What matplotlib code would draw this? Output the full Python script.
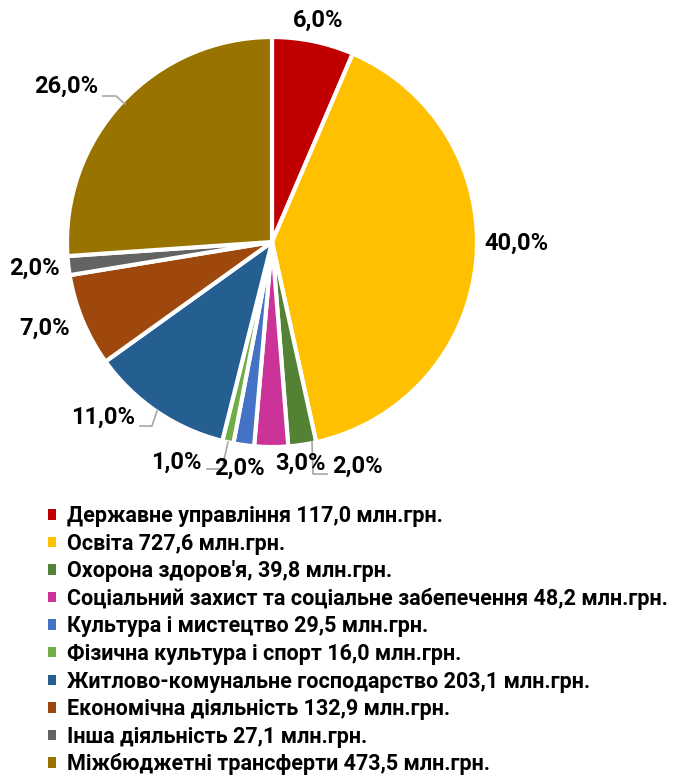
import numpy as np
import matplotlib.pyplot as plt

plt.rcParams['font.family'] = ['Roboto', 'DejaVu Sans']

# data
categories = ["Державне управління 117,0 млн.грн.",
              "Освіта 727,6 млн.грн.",
              "Охорона здоров'я, 39,8 млн.грн.",
              "Соціальний захист та соціальне забепечення 48,2 млн.грн.",
              "Культура і мистецтво 29,5 млн.грн.",
              "Фізична культура і спорт 16,0 млн.грн.",
              "Житлово-комунальне господарство 203,1 млн.грн.",
              "Економічна діяльність 132,9 млн.грн.",
              "Інша діяльність 27,1 млн.грн.",
              "Міжбюджетні трансферти 473,5 млн.грн."]
values = [117.0, 727.6, 39.8, 48.2, 29.5, 16.0, 203.1, 132.9, 27.1, 473.5]
pct_labels = ["6,0%", "40,0%", "2,0%", "3,0%", "2,0%", "1,0%", "11,0%", "7,0%", "2,0%", "26,0%"]
colors = ["#C00000", "#FFC000", "#548235", "#CC3399", "#4472C4",
          "#70AD47", "#255E91", "#9E480E", "#636363", "#997300"]

W, H = 679, 776
fig = plt.figure(figsize=(W / 100, H / 100), dpi=100)
ax = fig.add_axes([0, 0, 1, 1])

cx, cy, R = 272, H - 242, 205
wedges, _ = ax.pie(values, colors=colors, startangle=90, counterclock=False,
                   center=(cx, cy), radius=R, frame=True,
                   wedgeprops=dict(edgecolor='white', linewidth=3))
ax.set_xlim(0, W)
ax.set_ylim(0, H)
ax.set_aspect('equal')
ax.axis('off')

# label layout (pixel positions of text centres, image coords)
label_pos = [(318, 20), (516, 243), (357, 466), (301, 463), (239, 468),
             (176, 462), (103, 417), (45, 328), (34, 268), (66, 86)]
for txt, (px, py) in zip(pct_labels, label_pos):
    ax.text(px, H - py, txt, ha='center', va='center', fontsize=17,
            fontweight='bold', color='black')

# leader lines
leaders = [
    [(103, 96), (116, 96), (125, 104)],
    [(140, 426), (152, 426), (157, 411)],
    [(228, 442), (222, 469), (207, 469)],
    [(312, 442), (313, 474), (327, 474)],
]
for pts in leaders:
    xs = [p[0] for p in pts]
    ys = [H - p[1] for p in pts]
    ax.plot(xs, ys, color='#A6A6A6', lw=1.2)

leg = fig.legend(wedges, categories, loc='upper left',
                 bbox_to_anchor=(48 / W, 1 - 505 / H), frameon=False,
                 prop=dict(size=15.5, weight='bold'), handlelength=0.37,
                 handleheight=0.37, handletextpad=0.5, labelspacing=0.26,
                 borderaxespad=0, borderpad=0)
for p in leg.get_patches():
    p.set_edgecolor('none')

fig.savefig('out.png', dpi=100)
